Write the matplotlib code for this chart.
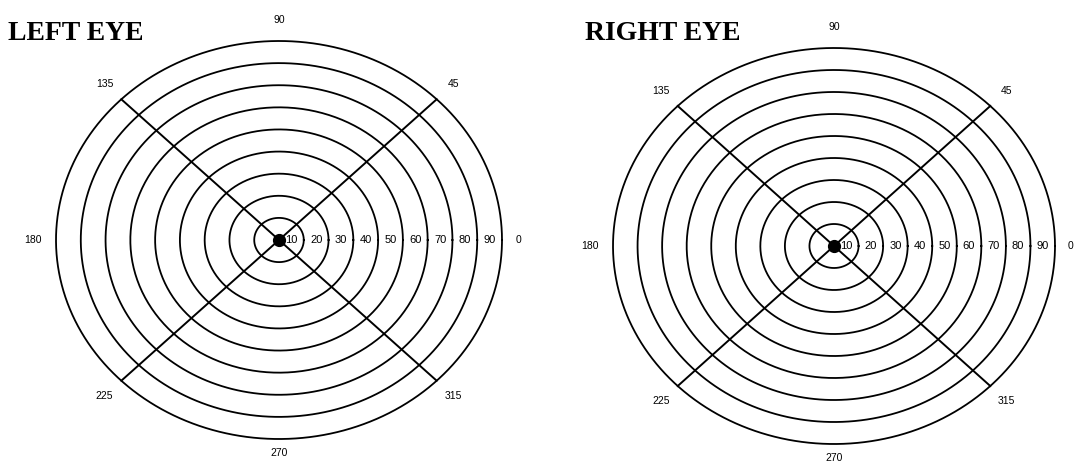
import numpy as np
import matplotlib
matplotlib.use("Agg")
import matplotlib.pyplot as plt

# chart content
titles = ["LEFT EYE", "RIGHT EYE"]
ring_degrees = [10, 20, 30, 40, 50, 60, 70, 80, 90]
meridians = [0, 45, 90, 135, 180, 225, 270, 315]
axis_lines = [(45, 225), (135, 315)]

W, H = 1075, 466
fig = plt.figure(figsize=(W / 100, H / 100), dpi=100)

# pixel layout of each panel: centre x, centre y (from top), radius x, radius y, title x, title y
panels = [
    dict(x0=0, x1=537, cx=279, cy=240, rx=223, ry=199, tx=8, ty=34),
    dict(x0=537, x1=1075, cx=834, cy=246, rx=221, ry=198, tx=585, ty=33),
]

for title, p in zip(titles, panels):
    ax = fig.add_axes([p['x0'] / W, 0, (p['x1'] - p['x0']) / W, 1])
    sx = p['rx'] / max(ring_degrees)
    sy = p['ry'] / max(ring_degrees)
    ax.set_xlim((p['x0'] - p['cx']) / sx, (p['x1'] - p['cx']) / sx)
    ax.set_ylim((p['cy'] - H) / sy, p['cy'] / sy)
    ax.axis('off')

    t = np.linspace(0, 2 * np.pi, 400)
    for r in ring_degrees:
        ax.plot(r * np.cos(t), r * np.sin(t), color='black', lw=1.3)

    rmax = max(ring_degrees)
    for a, b in axis_lines:
        xs = [rmax * np.cos(np.radians(a)), rmax * np.cos(np.radians(b))]
        ys = [rmax * np.sin(np.radians(a)), rmax * np.sin(np.radians(b))]
        ax.plot(xs, ys, color='black', lw=1.4)

    ax.plot([0], [0], 'o', color='black', markersize=8.5)

    for r in ring_degrees:
        ax.text(r - 5, 0, str(r), ha='center', va='center',
                fontsize=8, family='Liberation Sans')

    for m in meridians:
        rr = 96.5 if m in (0, 270) else 99.5
        ax.text(rr * np.cos(np.radians(m)), rr * np.sin(np.radians(m)),
                str(m), ha='center', va='center', fontsize=7.5,
                family='Liberation Sans')

    fig.text(p['tx'] / W, 1 - p['ty'] / H, title, ha='left', va='center',
             fontsize=20, fontweight='bold', family='Liberation Serif')

fig.savefig('out.png', dpi=100, facecolor='white')
